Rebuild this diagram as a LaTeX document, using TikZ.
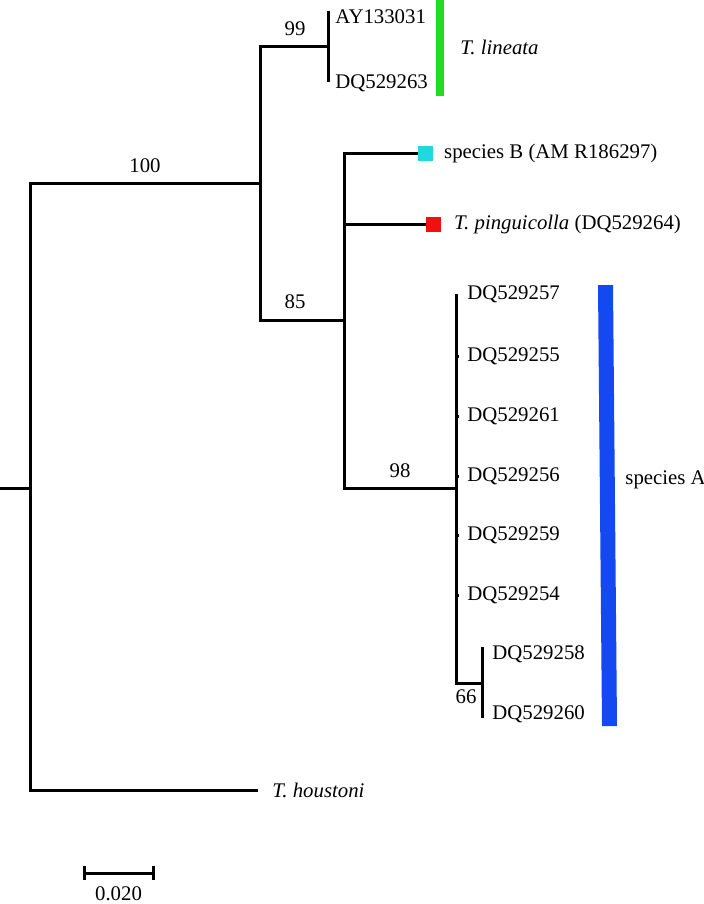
\documentclass[tikz,border=0pt]{standalone}
\usepackage{fontspec}
\setmainfont{Liberation Serif}
\usetikzlibrary{positioning,calc}
\definecolor{barGreen}{RGB}{34,221,34}
\definecolor{barBlue}{RGB}{20,72,240}
\definecolor{boxCyan}{RGB}{32,216,224}
\definecolor{boxRed}{RGB}{240,16,16}
\tikzset{
	branch/.style={line width=1.5pt},
	leaf/.style={inner sep=0pt,font=\fontsize{10.4}{12}\selectfont},
	boot/.style={inner sep=1pt,font=\fontsize{10.4}{12}\selectfont},
	tipbox/.style={minimum size=7.5pt,inner sep=0pt},
}
\begin{document}
\begin{tikzpicture}[x=0.5pt,y=-0.5pt]
			\useasboundingbox (0,0) rectangle (704,904);
			% internal nodes
			\coordinate (base) at (0,488);
			\coordinate (root) at (30,488);
			\coordinate (n100) at (260,183);
			\coordinate (n99) at (328,47);
			\coordinate (n85) at (344,320);
			\coordinate (n98) at (456,488);
			\coordinate (n66) at (482,683);
			% tips
			\coordinate (ay031) at (328,11);
			\coordinate (dq263) at (328,82);
			\coordinate (spB) at (418,153);
			\coordinate (ping) at (426,224);
			\coordinate (dq257) at (456,294);
			\coordinate (dq255) at (456,356);
			\coordinate (dq261) at (456,416);
			\coordinate (dq256) at (456,476);
			\coordinate (dq259) at (456,535);
			\coordinate (dq254) at (456,595);
			\coordinate (dq258) at (482,647);
			\coordinate (dq260) at (482,718);
			\coordinate (hou) at (258,790);
			% branches
			\draw[branch](base)--(root);
			\draw[branch](root)|-(n100);
			\draw[branch](root)|-(hou);
			\draw[branch](n100)|-(n99);
			\draw[branch](n100)|-(n85);
			\draw[branch](ay031)--(dq263);
			\draw[branch](n85)|-(spB);
			\draw[branch](n85)|-(ping);
			\draw[branch](n85)|-(n98);
			\draw[branch](n98)--(dq257);
			\draw[branch](n98)|-(n66);
			\draw[branch](dq258)--(dq260);
			\foreach \t in {dq255,dq261,dq256,dq259,dq254}
				\draw[line width=1.5pt](\t)--++(3,0);
			% tip markers
			\node[tipbox,fill=boxCyan,anchor=west](sqB) at (spB){};
			\node[tipbox,fill=boxRed,anchor=west](sqP) at (ping){};
			% tip labels
			\node[leaf,anchor=west] at (335,17){AY133031};
			\node[leaf,anchor=west] at (335,83){DQ529263};
			\node[leaf,right=5pt of sqB]{species B (AM R186297)};
			\node[leaf,right=6pt of sqP]{\textit{T. pinguicolla} (DQ529264)};
			\foreach \t/\lab in {dq257/DQ529257,dq255/DQ529255,dq261/DQ529261,dq256/DQ529256,dq259/DQ529259,dq254/DQ529254}
				\node[leaf,right=5.5pt of \t]{\lab};
			\node[leaf,anchor=west] at (492,654){DQ529258};
			\node[leaf,anchor=west] at (492,714){DQ529260};
			\node[leaf,right=7pt of hou]{\textit{T. houstoni}};
			% bootstrap values
			\node[boot,anchor=south] at (145,175){100};
			\node[boot,anchor=south] at (295,38){99};
			\node[boot,anchor=south] at (295,311){85};
			\node[boot,anchor=south] at (400,480){98};
			\node[boot] at (466,697){66};
			% clade bars
			\fill[barGreen](436,0) rectangle (444,96);
			\node[leaf,anchor=west] at (460,47){\textit{T. lineata}};
			\fill[barBlue](598,285)--(613,285)--(617,726)--(602,726)--cycle;
			\node[leaf,anchor=west] at (625,480){species A};
			% scale bar
			\coordinate (sbL) at (84,873);
			\coordinate (sbR) at (153,873);
			\draw[branch](sbL)--(sbR);
			\draw[branch](84,866)--(84,880);
			\draw[branch](153,866)--(153,880);
			\node[boot,below=5.5pt of $(sbL)!0.5!(sbR)$]{0.020};
			\end{tikzpicture}
\end{document}
